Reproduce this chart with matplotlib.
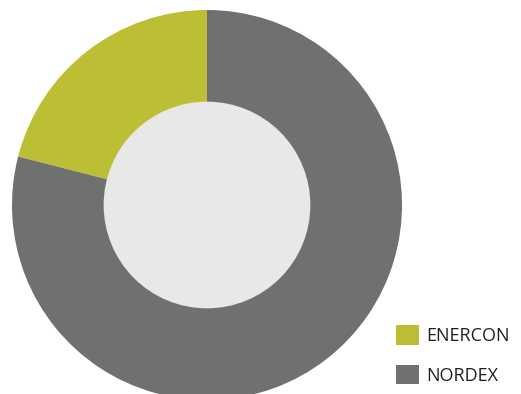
import matplotlib.pyplot as plt
from matplotlib.patches import Circle

labels = ["ENERCON", "NORDEX"]
shares = [21, 79]
colors = ["#bcbf33", "#6f7070"]

fig = plt.figure(figsize=(5.21, 3.94), dpi=100)
ax = fig.add_axes([12 / 521, -6 / 394, 390 / 521, 390 / 394])

wedges, _ = ax.pie(shares, colors=colors, startangle=90, counterclock=True,
                   radius=1, wedgeprops=dict(linewidth=0))
ax.add_patch(Circle((0, 0), 0.53, color="#e8e8e8", lw=0))
ax.set_xlim(-1, 1)
ax.set_ylim(-1, 1)
ax.set_aspect("equal")
ax.axis("off")

fig.legend(wedges, labels, loc="upper left", bbox_to_anchor=(396 / 521, 69 / 394),
           frameon=False, handlelength=1.25, handleheight=1.3,
           handletextpad=0.4, labelspacing=1.1, borderaxespad=0, borderpad=0,
           prop={"family": "Open Sans", "size": 13}, labelcolor="#231f20")

fig.savefig("out.png", dpi=100)
